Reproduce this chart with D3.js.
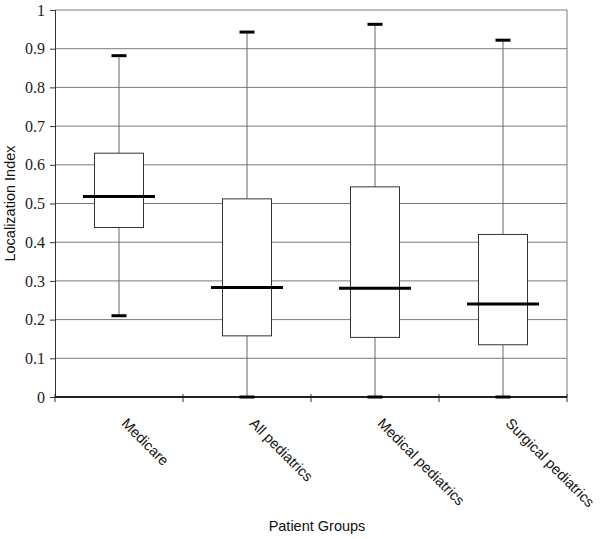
<!DOCTYPE html>
<html>
<head>
<meta charset="utf-8">
<script src="https://cdn.jsdelivr.net/npm/d3@7"></script>
<style>
  body { margin: 0; background: #fff; }
  svg { display: block; }
</style>
</head>
<body>
<div id="chart"></div>
<script>
// Box plot data
const groups = ['Medicare', 'All pediatrics', 'Medical pediatrics', 'Surgical pediatrics'];
const mins = [0.21, 0.0, 0.0, 0.0];
const q1s = [0.438, 0.158, 0.154, 0.135];
const medians = [0.518, 0.283, 0.281, 0.24];
const q3s = [0.63, 0.512, 0.543, 0.42];
const maxs = [0.882, 0.943, 0.963, 0.922];
const yTicks = [0, 0.1, 0.2, 0.3, 0.4, 0.5, 0.6, 0.7, 0.8, 0.9, 1];
const yTickLabels = ['0', '0.1', '0.2', '0.3', '0.4', '0.5', '0.6', '0.7', '0.8', '0.9', '1'];

const width = 600, height = 539;
const margin = { top: 10, right: 33, bottom: 142, left: 55 };
const innerW = width - margin.left - margin.right;
const innerH = height - margin.top - margin.bottom;

const serif = 'Liberation Serif';
const sans = 'Liberation Sans';

const svg = d3.select('#chart')
    .append('svg')
    .attr('width', width)
    .attr('height', height);

const g = svg.append('g')
    .attr('transform', `translate(${margin.left},${margin.top})`);

const x = d3.scaleBand()
    .domain(groups)
    .range([0, innerW]);

const y = d3.scaleLinear()
    .domain([0, 1])
    .range([innerH, 0]);

// Gridlines
g.selectAll('.grid')
    .data(yTicks.filter(d => d > 0))
    .enter()
    .append('line')
    .attr('x1', 0)
    .attr('x2', innerW)
    .attr('y1', d => y(d))
    .attr('y2', d => y(d))
    .attr('stroke', '#7a7a7a')
    .attr('stroke-width', 1);

// Right border
g.append('line')
    .attr('x1', innerW).attr('x2', innerW)
    .attr('y1', 0).attr('y2', innerH)
    .attr('stroke', '#7a7a7a');

// Y axis
const yAxis = g.append('g')
    .call(d3.axisLeft(y).tickValues(yTicks).tickSize(5).tickFormat((d, i) => yTickLabels[i]));
yAxis.attr('font-family', serif).attr('font-size', 16);
yAxis.select('.domain').attr('stroke', '#333');
yAxis.selectAll('.tick line').attr('stroke', '#333');
yAxis.selectAll('.tick text')
    .attr('x', -10)
    .attr('fill', '#222');

// X axis ticks at band boundaries
const bounds = groups.map(d => x(d)).concat([innerW]);
g.selectAll('.xtick')
    .data(bounds)
    .enter()
    .append('line')
    .attr('x1', d => d).attr('x2', d => d)
    .attr('y1', innerH - 3).attr('y2', innerH + 5)
    .attr('stroke', '#333');

g.append('line')
    .attr('x1', 0).attr('x2', innerW)
    .attr('y1', innerH).attr('y2', innerH)
    .attr('stroke', '#222')
    .attr('stroke-width', 2);

const data = groups.map((name, i) => ({
    name, min: mins[i], q1: q1s[i], median: medians[i], q3: q3s[i], max: maxs[i]
}));

const boxW = 49, medW = 72, capW = 15;

const box = g.selectAll('.box')
    .data(data)
    .enter()
    .append('g')
    .attr('transform', d => `translate(${x(d.name) + x.bandwidth() / 2},0)`);

// Whiskers
box.append('line')
    .attr('x1', 0).attr('x2', 0)
    .attr('y1', d => y(d.max)).attr('y2', d => y(d.q3))
    .attr('stroke', '#666');
box.append('line')
    .attr('x1', 0).attr('x2', 0)
    .attr('y1', d => y(d.q1)).attr('y2', d => y(d.min))
    .attr('stroke', '#666');

// Box
box.append('rect')
    .attr('x', -boxW / 2)
    .attr('width', boxW)
    .attr('y', d => y(d.q3))
    .attr('height', d => y(d.q1) - y(d.q3))
    .attr('fill', '#fff')
    .attr('stroke', '#333');

// Caps
box.append('line')
    .attr('x1', -capW / 2).attr('x2', capW / 2)
    .attr('y1', d => y(d.max)).attr('y2', d => y(d.max))
    .attr('stroke', '#000').attr('stroke-width', 3);
box.append('line')
    .attr('x1', -capW / 2).attr('x2', capW / 2)
    .attr('y1', d => y(d.min)).attr('y2', d => y(d.min))
    .attr('stroke', '#000').attr('stroke-width', 3);

// Median
box.append('line')
    .attr('x1', -medW / 2).attr('x2', medW / 2)
    .attr('y1', d => y(d.median)).attr('y2', d => y(d.median))
    .attr('stroke', '#000').attr('stroke-width', 3);

// Category labels, rotated
g.selectAll('.xlabel')
    .data(groups)
    .enter()
    .append('text')
    .attr('transform', d => `translate(${x(d) + x.bandwidth() / 2 + 9},${innerH + 20}) rotate(45)`)
    .attr('font-family', sans)
    .attr('font-size', 14.5)
    .attr('dominant-baseline', 'hanging')
    .attr('fill', '#111')
    .text(d => d);

// Axis titles
svg.append('text')
    .attr('x', margin.left + innerW / 2 + 6)
    .attr('y', 531)
    .attr('text-anchor', 'middle')
    .attr('font-family', sans)
    .attr('font-size', 14.5)
    .attr('fill', '#111')
    .text('Patient Groups');

svg.append('text')
    .attr('transform', `translate(15,${margin.top + innerH / 2}) rotate(-90)`)
    .attr('text-anchor', 'middle')
    .attr('font-family', sans)
    .attr('font-size', 14.5)
    .attr('fill', '#111')
    .text('Localization Index');
</script>
</body>
</html>
